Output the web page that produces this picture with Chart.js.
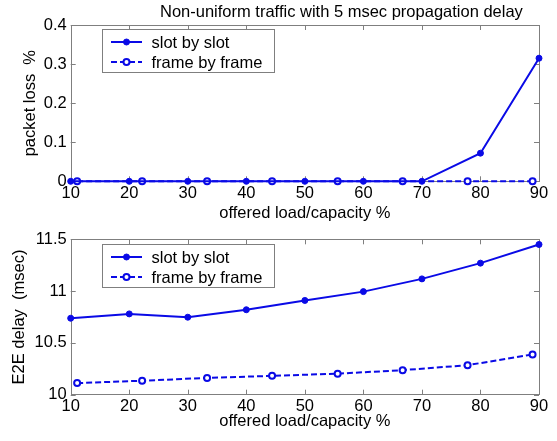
<!DOCTYPE html>
<html>
<head>
<meta charset="utf-8">
<script src="https://cdn.jsdelivr.net/npm/chart.js@4.4.1/dist/chart.umd.min.js"></script>
<style>
    body { margin: 0; background: #fff; }
    #wrap { position: relative; width: 557px; height: 441px; }
    canvas { position: absolute; left: 0; }
    #title {
        position: absolute; left: 160px; top: 2px;
        font: 16.5px 'Liberation Sans', Arial, sans-serif;
        line-height: 19px; white-space: nowrap; color: #000;
    }
</style>
</head>
<body>
<div id="wrap">
    <canvas id="lossChart" width="557" height="224" style="top:0"></canvas>
    <canvas id="delayChart" width="557" height="217" style="top:224px"></canvas>
    <div id="title">Non-uniform traffic with 5 msec propagation delay</div>
</div>
<script>
// offered load (x) for each scheme
const slotLoad = [10, 20, 30, 40, 50, 60, 70, 80, 90];
const frameLoad = [11.1, 22.2, 33.3, 44.4, 55.6, 66.7, 77.8, 88.9];

// packet loss %
const slotLoss = [0, 0, 0, 0, 0, 0, 0, 0.072, 0.315];
const frameLoss = [0, 0, 0, 0, 0, 0, 0, 0];

// E2E delay (msec)
const slotDelay = [10.738, 10.78, 10.748, 10.82, 10.91, 10.995, 11.118, 11.27, 11.45];
const frameDelay = [10.112, 10.135, 10.162, 10.182, 10.203, 10.237, 10.285, 10.388];

// tick values
const loadTicks = [10, 20, 30, 40, 50, 60, 70, 80, 90];
const lossTicks = [0, 0.1, 0.2, 0.3, 0.4];
const delayTicks = [10, 10.5, 11, 11.5];

const BLUE = '#0a0ae6';
const GRAY = '#7f7f7f';
const FONT = { family: "'Liberation Sans', Arial, sans-serif", size: 16.5 };

const toPoints = (xs, ys) => xs.map((x, i) => ({ x: x, y: ys[i] }));

function slotSet(ys) {
    return {
        label: 'slot by slot',
        data: toPoints(slotLoad, ys),
        borderColor: BLUE,
        borderWidth: 2,
        pointRadius: 3,
        pointBackgroundColor: BLUE,
        pointBorderColor: BLUE,
        pointBorderWidth: 1,
        tension: 0,
        clip: false
    };
}

function frameSet(ys) {
    return {
        label: 'frame by frame',
        data: toPoints(frameLoad, ys),
        borderColor: BLUE,
        borderWidth: 2,
        borderDash: [6, 3],
        pointRadius: 3,
        pointBackgroundColor: '#fff',
        pointBorderColor: BLUE,
        pointBorderWidth: 2,
        tension: 0,
        clip: false
    };
}

// matlab style box with inward ticks
const boxPlugin = {
    id: 'box',
    beforeDatasetsDraw(chart) {
        const { ctx, chartArea: a, scales } = chart;
        const tl = 5;
        ctx.save();
        ctx.strokeStyle = GRAY;
        ctx.lineWidth = 1;
        ctx.beginPath();
        scales.x.ticks.forEach(t => {
            const px = Math.round(scales.x.getPixelForValue(t.value)) + 0.5;
            ctx.moveTo(px, a.bottom); ctx.lineTo(px, a.bottom - tl);
            ctx.moveTo(px, a.top); ctx.lineTo(px, a.top + tl);
        });
        scales.y.ticks.forEach(t => {
            const py = Math.round(scales.y.getPixelForValue(t.value)) + 0.5;
            ctx.moveTo(a.left, py); ctx.lineTo(a.left + tl, py);
            ctx.moveTo(a.right, py); ctx.lineTo(a.right - tl, py);
        });
        ctx.stroke();
        ctx.strokeRect(Math.round(a.left) + 0.5, Math.round(a.top) + 0.5,
            Math.round(a.right - a.left), Math.round(a.bottom - a.top));
        ctx.restore();
    }
};

// legend drawn inside a bordered box
const boxLegend = {
    id: 'boxLegend',
    afterDraw(chart, args, opts) {
        const ctx = chart.ctx;
        const { x, y, w, h } = opts;
        ctx.save();
        ctx.fillStyle = '#fff';
        ctx.fillRect(x, y, w, h);
        ctx.strokeStyle = GRAY;
        ctx.lineWidth = 1;
        ctx.strokeRect(x + 0.5, y + 0.5, w, h);
        chart.data.datasets.forEach((ds, i) => {
            const cy = y + 13 + i * 20;
            ctx.strokeStyle = ds.borderColor;
            ctx.lineWidth = ds.borderWidth;
            ctx.setLineDash(ds.borderDash || []);
            ctx.beginPath();
            ctx.moveTo(x + 9, cy);
            ctx.lineTo(x + 40, cy);
            ctx.stroke();
            ctx.setLineDash([]);
            ctx.beginPath();
            ctx.arc(x + 24.5, cy, ds.pointRadius, 0, Math.PI * 2);
            ctx.fillStyle = ds.pointBackgroundColor;
            ctx.fill();
            ctx.lineWidth = ds.pointBorderWidth;
            ctx.strokeStyle = ds.pointBorderColor;
            ctx.stroke();
            ctx.fillStyle = '#000';
            ctx.font = FONT.size + 'px ' + FONT.family;
            ctx.textBaseline = 'middle';
            ctx.fillText(ds.label, x + 49.5, cy + 1);
        });
        ctx.restore();
    }
};

function makeChart(id, o) {
    const ctx = document.getElementById(id).getContext('2d');
    return new Chart(ctx, {
        type: 'line',
        data: { datasets: [frameSet(o.frame), slotSet(o.slot)].reverse() },
        options: {
            responsive: false,
            animation: false,
            devicePixelRatio: 1,
            layout: { padding: { left: 0, right: 18, top: o.padTop, bottom: 0 } },
            plugins: {
                legend: { display: false },
                tooltip: { enabled: false },
                boxLegend: o.legend
            },
            scales: {
                x: {
                    type: 'linear',
                    min: 10,
                    max: 90,
                    afterBuildTicks: s => { s.ticks = loadTicks.map(v => ({ value: v })); },
                    afterFit: s => { s.height = o.xHeight; },
                    grid: { display: false, drawTicks: false },
                    border: { display: false },
                    ticks: { color: '#000', font: FONT, padding: 2, maxRotation: 0, callback: v => String(v) },
                    title: { display: true, text: 'offered load/capacity %', color: '#000', font: FONT, padding: { top: 0, bottom: o.xTitlePad } }
                },
                y: {
                    type: 'linear',
                    min: o.yTicks[0],
                    max: o.yTicks[o.yTicks.length - 1],
                    afterBuildTicks: s => { s.ticks = o.yTicks.map(v => ({ value: v })); },
                    afterFit: s => { s.width = 70.7; },
                    grid: { display: false, drawTicks: false },
                    border: { display: false },
                    ticks: { color: '#000', font: FONT, padding: 4, callback: v => String(v) },
                    title: { display: true, text: o.yTitle, color: '#000', font: FONT, padding: { top: o.yTitlePad, bottom: 0 } }
                }
            }
        },
        plugins: [boxPlugin, boxLegend]
    });
}

makeChart('lossChart', {
    slot: slotLoss,
    frame: frameLoss,
    yTicks: lossTicks,
    yTitle: 'packet loss  %',
    padTop: 25,
    xHeight: 42.7,
    xTitlePad: 1.1,
    yTitlePad: 21,
    legend: { x: 102, y: 29, w: 172, h: 43 }
});

makeChart('delayChart', {
    slot: slotDelay,
    frame: frameDelay,
    yTicks: delayTicks,
    yTitle: 'E2E delay  (msec)',
    padTop: 15.3,
    xHeight: 46.3,
    xTitlePad: 10.1,
    yTitlePad: 9.6,
    legend: { x: 102, y: 20, w: 172, h: 43 }
});
</script>
</body>
</html>
